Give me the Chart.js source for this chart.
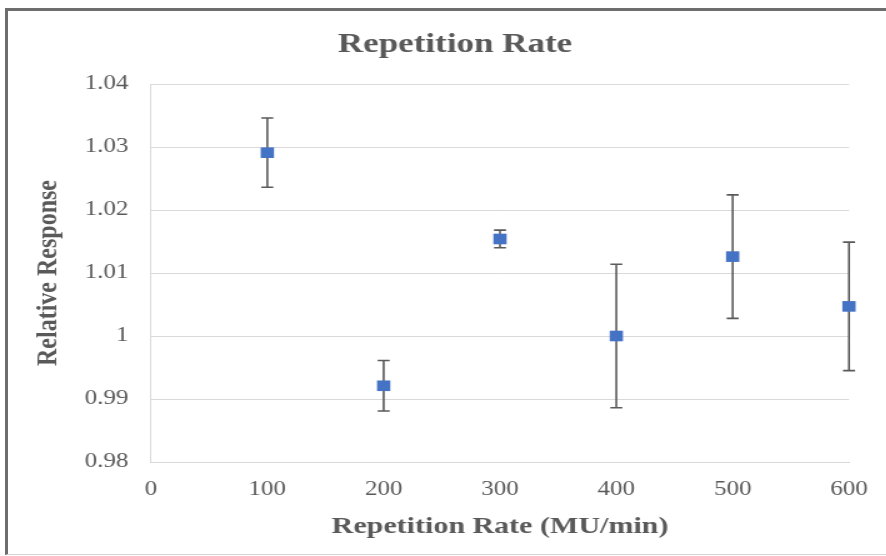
<!DOCTYPE html>
<html>
<head>
<meta charset="utf-8">
<script src="https://cdn.jsdelivr.net/npm/chart.js@4/dist/chart.umd.min.js"></script>
<style>
  html, body { margin: 0; padding: 0; background: #fff; overflow: hidden; }
  #frame {
    position: absolute; left: 5px; top: 8px; width: 900px; height: 543px;
    border-left: 3px solid #6d6d6d; border-top: 3px solid #6d6d6d;
    border-bottom: 1px solid #d4d4d4;
  }
  /* the reference picture is stretched sideways, so the canvas is too */
  #wrap { position: absolute; left: 0; top: 0; transform: scaleX(1.25); transform-origin: 0 0; }
</style>
</head>
<body>
<div id="frame"></div>
<div id="wrap"><canvas id="chart" width="709" height="556"></canvas></div>
<script>
// datos
const rates = [100, 200, 300, 400, 500, 600];
const response = [1.0291, 0.9921, 1.0154, 1.0000, 1.0126, 1.0047];
const errors = [0.0055, 0.0040, 0.0014, 0.0114, 0.0098, 0.0102];

const xTicks = [0, 100, 200, 300, 400, 500, 600];
const yTicks = [0.98, 0.99, 1, 1.01, 1.02, 1.03, 1.04];
const yTickLabels = ['0.98', '0.99', '1', '1.01', '1.02', '1.03', '1.04'];

const grey = '#595959';
const serif = 'Liberation Serif';

// barras de error dibujadas con las escalas del gráfico
const errorBars = {
    id: 'errorBars',
    beforeDatasetsDraw(chart) {
        const { ctx, scales: { x, y } } = chart;
        ctx.save();
        ctx.strokeStyle = '#5a5a5a';
        ctx.lineWidth = 1.6;
        rates.forEach((r, i) => {
            const px = x.getPixelForValue(r);
            const top = y.getPixelForValue(response[i] + errors[i]);
            const bottom = y.getPixelForValue(response[i] - errors[i]);
            ctx.beginPath();
            ctx.moveTo(px, top);
            ctx.lineTo(px, bottom);
            ctx.moveTo(px - 4.8, top);
            ctx.lineTo(px + 4.8, top);
            ctx.moveTo(px - 4.8, bottom);
            ctx.lineTo(px + 4.8, bottom);
            ctx.stroke();
        });
        ctx.restore();
    }
};

new Chart(document.getElementById('chart'), {
    type: 'scatter',
    data: {
        datasets: [{
            label: 'Relative Response',
            data: rates.map((r, i) => ({ x: r, y: response[i] })),
            pointStyle: 'rect',
            pointRadius: 7.5,
            backgroundColor: '#4472c4',
            borderColor: '#4472c4',
            borderWidth: 0,
            clip: false
        }]
    },
    options: {
        responsive: false,
        animation: false,
        devicePixelRatio: 1,
        layout: { padding: { left: 19, right: 0, top: 0, bottom: 0 } },
        plugins: {
            legend: { display: false },
            tooltip: { enabled: false },
            title: {
                display: true,
                text: 'Repetition Rate',
                color: grey,
                font: { family: serif, size: 28, weight: 'bold' },
                padding: { top: 28, bottom: 22.4 }
            }
        },
        scales: {
            x: {
                type: 'linear',
                min: 0,
                max: 600,
                afterBuildTicks: s => { s.ticks = xTicks.map(v => ({ value: v })); },
                afterFit: s => { s.height = 94; s.paddingRight = 29.8; },
                grid: { display: false, drawTicks: false },
                border: { display: true, color: '#d9d9d9', width: 1 },
                ticks: {
                    color: grey,
                    padding: 16,
                    font: { family: serif, size: 20 },
                    callback: v => String(v)
                },
                title: {
                    display: true,
                    text: 'Repetition Rate (MU/min)',
                    color: grey,
                    font: { family: serif, size: 24, weight: 'bold' },
                    padding: { top: 0, bottom: 15 }
                }
            },
            y: {
                min: 0.98,
                max: 1.04,
                afterBuildTicks: s => { s.ticks = yTicks.map(v => ({ value: v })); },
                afterFit: s => { s.width = 101.8; },
                grid: { color: '#d9d9d9', lineWidth: 1, drawTicks: false },
                border: { display: true, color: '#d9d9d9', width: 1 },
                ticks: {
                    color: grey,
                    padding: 18,
                    font: { family: serif, size: 20 },
                    callback: (v, i) => yTickLabels[i]
                },
                title: {
                    display: true,
                    text: 'Relative Response',
                    color: grey,
                    font: { family: serif, size: 24, weight: 'bold' },
                    padding: { top: 5, bottom: 0 }
                }
            }
        }
    },
    plugins: [errorBars]
});
</script>
</body>
</html>
